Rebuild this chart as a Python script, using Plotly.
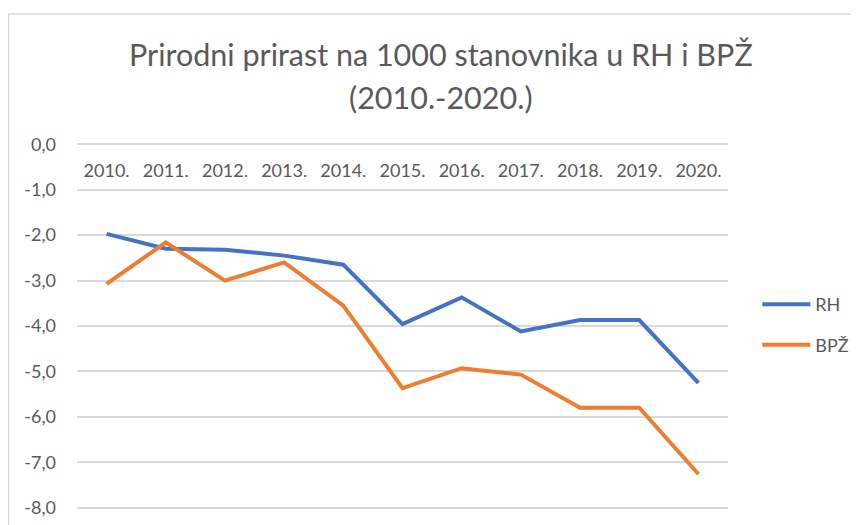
import plotly.graph_objects as go

years = ["2010.", "2011.", "2012.", "2013.", "2014.", "2015.", "2016.", "2017.", "2018.", "2019.", "2020."]
rh = [-1.97, -2.30, -2.32, -2.45, -2.65, -3.96, -3.37, -4.12, -3.87, -3.87, -5.25]
bpz = [-3.07, -2.16, -3.00, -2.60, -3.55, -5.37, -4.93, -5.07, -5.80, -5.80, -7.26]
y_ticks = [0, -1, -2, -3, -4, -5, -6, -7, -8]
y_labels = ["0,0", "-1,0", "-2,0", "-3,0", "-4,0", "-5,0", "-6,0", "-7,0", "-8,0"]
title_lines = ["Prirodni prirast na 1000 stanovnika u RH i BPŽ", "(2010.-2020.)"]

FONT = "Lato, Carlito, Calibri, sans-serif"
TXT = "#595959"

# page body has an 8px offset; plot area targeted at x 77..728, y 143..509 in the window
fig = go.Figure()
fig.add_trace(go.Scatter(x=years, y=rh, name="RH", mode="lines", legendgroup="a",
                         line=dict(color="#4472C4", width=4)))
fig.add_trace(go.Scatter(x=years, y=bpz, name="BPŽ", mode="lines", legendgroup="b",
                         line=dict(color="#ED7D31", width=4)))

fig.update_layout(
    width=859, height=525,
    margin=dict(l=69, r=139, t=135.1, b=23.9, autoexpand=False),
    paper_bgcolor="white", plot_bgcolor="white",
    font=dict(family=FONT, color=TXT, size=18),
    showlegend=True,
    legend=dict(x=1.045, xanchor="left", y=0.609, yanchor="top",
                font=dict(size=18, color=TXT), tracegroupgap=14, itemwidth=48,
                bgcolor="rgba(0,0,0,0)"),
    xaxis=dict(type="category", anchor="free", position=1, side="bottom",
               showgrid=False, showline=False, zeroline=False, ticks="",
               tickfont=dict(size=18, color=TXT), ticklabelstandoff=15,
               range=[-0.5, 10.5], automargin=False),
    yaxis=dict(range=[-8.03, 0.03], tickvals=y_ticks, ticktext=y_labels,
               showgrid=True, gridcolor="#D9D9D9", gridwidth=1.5,
               zeroline=False, showline=False, ticks="",
               tickfont=dict(size=18, color=TXT), ticklabelstandoff=20,
               automargin=False),
    annotations=[
        dict(text=title_lines[0], xref="paper", yref="paper", x=(441 - 77) / 651, y=1 + (143.1 - 54) / 366,
             xanchor="center", yanchor="middle", showarrow=False, font=dict(size=30.5, color=TXT)),
        dict(text=title_lines[1], xref="paper", yref="paper", x=(441 - 77) / 651, y=1 + (143.1 - 97) / 366,
             xanchor="center", yanchor="middle", showarrow=False, font=dict(size=30.5, color=TXT)),
    ],
    shapes=[dict(type="rect", xref="paper", yref="paper",
                 x0=(8.5 - 77) / 651, x1=1.5, y0=-0.3, y1=1 + (143.1 - 14) / 366,
                 line=dict(color="#D9D9D9", width=1.5), fillcolor="rgba(0,0,0,0)",
                 layer="below")],
)

fig.write_html("out.html")
